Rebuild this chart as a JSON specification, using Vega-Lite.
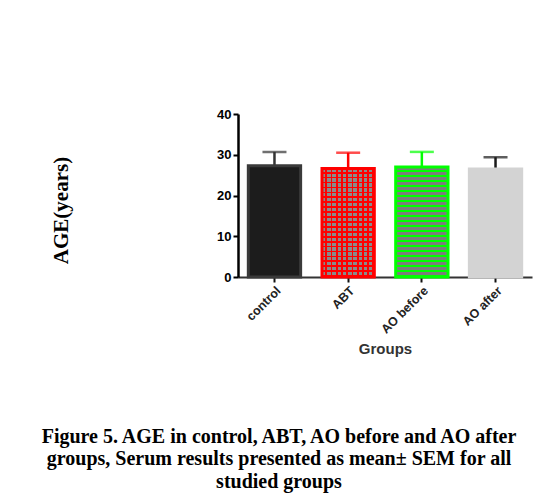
{
  "$schema": "https://vega.github.io/schema/vega-lite/v6.json",
  "width": 294,
  "height": 163,
  "autosize": {"type": "none"},
  "padding": {"left": 238, "top": 114, "right": 12, "bottom": 218},
  "background": "white",
  "config": {"view": {"stroke": null}},
  "title": {
    "text": ["Figure 5. AGE in control, ABT, AO before and AO after", "groups, Serum results presented as mean\u00b1 SEM for all", "studied groups"],
    "orient": "bottom",
    "anchor": "middle",
    "frame": "group",
    "dx": -106,
    "offset": 70,
    "font": "Liberation Serif",
    "fontSize": 20,
    "fontWeight": "bold",
    "color": "black",
    "lineHeight": 22.5
  },
  "data": {"values": [
    {"group": "control", "mean": 27.3, "upper": 30.7},
    {"group": "ABT", "mean": 26.6, "upper": 30.5},
    {"group": "AO before", "mean": 27.0, "upper": 30.7},
    {"group": "AO after", "mean": 26.5, "upper": 29.4}
  ]},
  "encoding": {
    "x": {
      "field": "group", "type": "nominal",
      "sort": ["control", "ABT", "AO before", "AO after"],
      "scale": {"paddingInner": 0.29, "paddingOuter": 0.14},
      "axis": {
        "title": "Groups", "titleFont": "Liberation Sans", "titleFontSize": 15, "titleFontWeight": "bold", "titleColor": "#333", "titlePadding": 6,
        "labelAngle": -45, "labelFont": "Liberation Sans", "labelFontSize": 12.5, "labelFontWeight": "bold", "labelColor": "#222",
        "domainColor": "#333", "domainWidth": 2, "tickColor": "#111", "tickWidth": 2, "tickSize": 5
      }
    }
  },
  "layer": [
    {
      "mark": {"type": "bar"},
      "encoding": {
        "y": {"field": "mean", "type": "quantitative", "scale": {"domain": [0, 40], "nice": false},
          "axis": {"values": [0, 10, 20, 30, 40], "grid": false, "title": "AGE(years)", "titleFont": "Liberation Serif", "titleFontSize": 21, "titleFontWeight": "bold", "titleColor": "black", "titlePadding": 145, "titleY": 96,
            "labelFont": "Liberation Sans", "labelFontSize": 13, "labelFontWeight": "bold", "labelColor": "black",
            "domainColor": "black", "domainWidth": 2.5, "tickColor": "black", "tickWidth": 2, "tickSize": 5}},
        "color": {"field": "group", "type": "nominal", "legend": null,
          "scale": {"domain": ["control", "ABT", "AO before", "AO after"], "range": ["#1c1c1c", "#8a8a8a", "#7c7c7c", "#d3d3d3"]}}
      }
    },
    {
      "transform": [{"filter": "datum.group === 'ABT'"}],
      "mark": {"type": "bar", "fill": {"gradient": "linear", "x1": 0, "y1": 0, "x2": 0, "y2": 1, "stops": [
        {"offset": 0, "color": "rgba(255,0,0,0)"}, {"offset": 0.0295, "color": "rgba(255,0,0,0)"}, {"offset": 0.0295, "color": "#ff0000"}, {"offset": 0.0455, "color": "#ff0000"},
        {"offset": 0.0455, "color": "rgba(255,0,0,0)"}, {"offset": 0.0750, "color": "rgba(255,0,0,0)"}, {"offset": 0.0750, "color": "#ff0000"}, {"offset": 0.0909, "color": "#ff0000"},
        {"offset": 0.0909, "color": "rgba(255,0,0,0)"}, {"offset": 0.1205, "color": "rgba(255,0,0,0)"}, {"offset": 0.1205, "color": "#ff0000"}, {"offset": 0.1364, "color": "#ff0000"},
        {"offset": 0.1364, "color": "rgba(255,0,0,0)"}, {"offset": 0.1659, "color": "rgba(255,0,0,0)"}, {"offset": 0.1659, "color": "#ff0000"}, {"offset": 0.1818, "color": "#ff0000"},
        {"offset": 0.1818, "color": "rgba(255,0,0,0)"}, {"offset": 0.2114, "color": "rgba(255,0,0,0)"}, {"offset": 0.2114, "color": "#ff0000"}, {"offset": 0.2273, "color": "#ff0000"},
        {"offset": 0.2273, "color": "rgba(255,0,0,0)"}, {"offset": 0.2568, "color": "rgba(255,0,0,0)"}, {"offset": 0.2568, "color": "#ff0000"}, {"offset": 0.2727, "color": "#ff0000"},
        {"offset": 0.2727, "color": "rgba(255,0,0,0)"}, {"offset": 0.3023, "color": "rgba(255,0,0,0)"}, {"offset": 0.3023, "color": "#ff0000"}, {"offset": 0.3182, "color": "#ff0000"},
        {"offset": 0.3182, "color": "rgba(255,0,0,0)"}, {"offset": 0.3477, "color": "rgba(255,0,0,0)"}, {"offset": 0.3477, "color": "#ff0000"}, {"offset": 0.3636, "color": "#ff0000"},
        {"offset": 0.3636, "color": "rgba(255,0,0,0)"}, {"offset": 0.3932, "color": "rgba(255,0,0,0)"}, {"offset": 0.3932, "color": "#ff0000"}, {"offset": 0.4091, "color": "#ff0000"},
        {"offset": 0.4091, "color": "rgba(255,0,0,0)"}, {"offset": 0.4386, "color": "rgba(255,0,0,0)"}, {"offset": 0.4386, "color": "#ff0000"}, {"offset": 0.4545, "color": "#ff0000"},
        {"offset": 0.4545, "color": "rgba(255,0,0,0)"}, {"offset": 0.4841, "color": "rgba(255,0,0,0)"}, {"offset": 0.4841, "color": "#ff0000"}, {"offset": 0.5, "color": "#ff0000"},
        {"offset": 0.5, "color": "rgba(255,0,0,0)"}, {"offset": 0.5295, "color": "rgba(255,0,0,0)"}, {"offset": 0.5295, "color": "#ff0000"}, {"offset": 0.5455, "color": "#ff0000"},
        {"offset": 0.5455, "color": "rgba(255,0,0,0)"}, {"offset": 0.5750, "color": "rgba(255,0,0,0)"}, {"offset": 0.5750, "color": "#ff0000"}, {"offset": 0.5909, "color": "#ff0000"},
        {"offset": 0.5909, "color": "rgba(255,0,0,0)"}, {"offset": 0.6205, "color": "rgba(255,0,0,0)"}, {"offset": 0.6205, "color": "#ff0000"}, {"offset": 0.6364, "color": "#ff0000"},
        {"offset": 0.6364, "color": "rgba(255,0,0,0)"}, {"offset": 0.6659, "color": "rgba(255,0,0,0)"}, {"offset": 0.6659, "color": "#ff0000"}, {"offset": 0.6818, "color": "#ff0000"},
        {"offset": 0.6818, "color": "rgba(255,0,0,0)"}, {"offset": 0.7114, "color": "rgba(255,0,0,0)"}, {"offset": 0.7114, "color": "#ff0000"}, {"offset": 0.7273, "color": "#ff0000"},
        {"offset": 0.7273, "color": "rgba(255,0,0,0)"}, {"offset": 0.7568, "color": "rgba(255,0,0,0)"}, {"offset": 0.7568, "color": "#ff0000"}, {"offset": 0.7727, "color": "#ff0000"},
        {"offset": 0.7727, "color": "rgba(255,0,0,0)"}, {"offset": 0.8023, "color": "rgba(255,0,0,0)"}, {"offset": 0.8023, "color": "#ff0000"}, {"offset": 0.8182, "color": "#ff0000"},
        {"offset": 0.8182, "color": "rgba(255,0,0,0)"}, {"offset": 0.8477, "color": "rgba(255,0,0,0)"}, {"offset": 0.8477, "color": "#ff0000"}, {"offset": 0.8636, "color": "#ff0000"},
        {"offset": 0.8636, "color": "rgba(255,0,0,0)"}, {"offset": 0.8932, "color": "rgba(255,0,0,0)"}, {"offset": 0.8932, "color": "#ff0000"}, {"offset": 0.9091, "color": "#ff0000"},
        {"offset": 0.9091, "color": "rgba(255,0,0,0)"}, {"offset": 0.9386, "color": "rgba(255,0,0,0)"}, {"offset": 0.9386, "color": "#ff0000"}, {"offset": 0.9545, "color": "#ff0000"},
        {"offset": 0.9545, "color": "rgba(255,0,0,0)"}, {"offset": 0.9841, "color": "rgba(255,0,0,0)"}, {"offset": 0.9841, "color": "#ff0000"}, {"offset": 1, "color": "#ff0000"}
      ]}},
      "encoding": {"y": {"field": "mean", "type": "quantitative"}}
    },
    {
      "transform": [{"filter": "datum.group === 'ABT'"}],
      "mark": {"type": "bar", "fill": {"gradient": "linear", "x1": 0, "y1": 0, "x2": 1, "y2": 0, "stops": [
        {"offset": 0, "color": "rgba(255,0,0,0)"}, {"offset": 0.065, "color": "rgba(255,0,0,0)"}, {"offset": 0.065, "color": "#ff0000"}, {"offset": 0.1, "color": "#ff0000"},
        {"offset": 0.1, "color": "rgba(255,0,0,0)"}, {"offset": 0.165, "color": "rgba(255,0,0,0)"}, {"offset": 0.165, "color": "#ff0000"}, {"offset": 0.2, "color": "#ff0000"},
        {"offset": 0.2, "color": "rgba(255,0,0,0)"}, {"offset": 0.265, "color": "rgba(255,0,0,0)"}, {"offset": 0.265, "color": "#ff0000"}, {"offset": 0.3, "color": "#ff0000"},
        {"offset": 0.3, "color": "rgba(255,0,0,0)"}, {"offset": 0.365, "color": "rgba(255,0,0,0)"}, {"offset": 0.365, "color": "#ff0000"}, {"offset": 0.4, "color": "#ff0000"},
        {"offset": 0.4, "color": "rgba(255,0,0,0)"}, {"offset": 0.465, "color": "rgba(255,0,0,0)"}, {"offset": 0.465, "color": "#ff0000"}, {"offset": 0.5, "color": "#ff0000"},
        {"offset": 0.5, "color": "rgba(255,0,0,0)"}, {"offset": 0.565, "color": "rgba(255,0,0,0)"}, {"offset": 0.565, "color": "#ff0000"}, {"offset": 0.6, "color": "#ff0000"},
        {"offset": 0.6, "color": "rgba(255,0,0,0)"}, {"offset": 0.665, "color": "rgba(255,0,0,0)"}, {"offset": 0.665, "color": "#ff0000"}, {"offset": 0.7, "color": "#ff0000"},
        {"offset": 0.7, "color": "rgba(255,0,0,0)"}, {"offset": 0.765, "color": "rgba(255,0,0,0)"}, {"offset": 0.765, "color": "#ff0000"}, {"offset": 0.8, "color": "#ff0000"},
        {"offset": 0.8, "color": "rgba(255,0,0,0)"}, {"offset": 0.865, "color": "rgba(255,0,0,0)"}, {"offset": 0.865, "color": "#ff0000"}, {"offset": 0.9, "color": "#ff0000"},
        {"offset": 0.9, "color": "rgba(255,0,0,0)"}, {"offset": 0.965, "color": "rgba(255,0,0,0)"}, {"offset": 0.965, "color": "#ff0000"}, {"offset": 1, "color": "#ff0000"}
      ]}},
      "encoding": {"y": {"field": "mean", "type": "quantitative"}}
    },
    {
      "transform": [{"filter": "datum.group === 'AO before'"}],
      "mark": {"type": "bar", "fill": {"gradient": "linear", "x1": 0, "y1": 0, "x2": 0, "y2": 1, "stops": [
        {"offset": 0, "color": "rgba(0,255,0,0)"}, {"offset": 0.0295, "color": "rgba(0,255,0,0)"}, {"offset": 0.0295, "color": "#00ff00"}, {"offset": 0.0455, "color": "#00ff00"},
        {"offset": 0.0455, "color": "rgba(0,255,0,0)"}, {"offset": 0.0750, "color": "rgba(0,255,0,0)"}, {"offset": 0.0750, "color": "#00ff00"}, {"offset": 0.0909, "color": "#00ff00"},
        {"offset": 0.0909, "color": "rgba(0,255,0,0)"}, {"offset": 0.1205, "color": "rgba(0,255,0,0)"}, {"offset": 0.1205, "color": "#00ff00"}, {"offset": 0.1364, "color": "#00ff00"},
        {"offset": 0.1364, "color": "rgba(0,255,0,0)"}, {"offset": 0.1659, "color": "rgba(0,255,0,0)"}, {"offset": 0.1659, "color": "#00ff00"}, {"offset": 0.1818, "color": "#00ff00"},
        {"offset": 0.1818, "color": "rgba(0,255,0,0)"}, {"offset": 0.2114, "color": "rgba(0,255,0,0)"}, {"offset": 0.2114, "color": "#00ff00"}, {"offset": 0.2273, "color": "#00ff00"},
        {"offset": 0.2273, "color": "rgba(0,255,0,0)"}, {"offset": 0.2568, "color": "rgba(0,255,0,0)"}, {"offset": 0.2568, "color": "#00ff00"}, {"offset": 0.2727, "color": "#00ff00"},
        {"offset": 0.2727, "color": "rgba(0,255,0,0)"}, {"offset": 0.3023, "color": "rgba(0,255,0,0)"}, {"offset": 0.3023, "color": "#00ff00"}, {"offset": 0.3182, "color": "#00ff00"},
        {"offset": 0.3182, "color": "rgba(0,255,0,0)"}, {"offset": 0.3477, "color": "rgba(0,255,0,0)"}, {"offset": 0.3477, "color": "#00ff00"}, {"offset": 0.3636, "color": "#00ff00"},
        {"offset": 0.3636, "color": "rgba(0,255,0,0)"}, {"offset": 0.3932, "color": "rgba(0,255,0,0)"}, {"offset": 0.3932, "color": "#00ff00"}, {"offset": 0.4091, "color": "#00ff00"},
        {"offset": 0.4091, "color": "rgba(0,255,0,0)"}, {"offset": 0.4386, "color": "rgba(0,255,0,0)"}, {"offset": 0.4386, "color": "#00ff00"}, {"offset": 0.4545, "color": "#00ff00"},
        {"offset": 0.4545, "color": "rgba(0,255,0,0)"}, {"offset": 0.4841, "color": "rgba(0,255,0,0)"}, {"offset": 0.4841, "color": "#00ff00"}, {"offset": 0.5, "color": "#00ff00"},
        {"offset": 0.5, "color": "rgba(0,255,0,0)"}, {"offset": 0.5295, "color": "rgba(0,255,0,0)"}, {"offset": 0.5295, "color": "#00ff00"}, {"offset": 0.5455, "color": "#00ff00"},
        {"offset": 0.5455, "color": "rgba(0,255,0,0)"}, {"offset": 0.5750, "color": "rgba(0,255,0,0)"}, {"offset": 0.5750, "color": "#00ff00"}, {"offset": 0.5909, "color": "#00ff00"},
        {"offset": 0.5909, "color": "rgba(0,255,0,0)"}, {"offset": 0.6205, "color": "rgba(0,255,0,0)"}, {"offset": 0.6205, "color": "#00ff00"}, {"offset": 0.6364, "color": "#00ff00"},
        {"offset": 0.6364, "color": "rgba(0,255,0,0)"}, {"offset": 0.6659, "color": "rgba(0,255,0,0)"}, {"offset": 0.6659, "color": "#00ff00"}, {"offset": 0.6818, "color": "#00ff00"},
        {"offset": 0.6818, "color": "rgba(0,255,0,0)"}, {"offset": 0.7114, "color": "rgba(0,255,0,0)"}, {"offset": 0.7114, "color": "#00ff00"}, {"offset": 0.7273, "color": "#00ff00"},
        {"offset": 0.7273, "color": "rgba(0,255,0,0)"}, {"offset": 0.7568, "color": "rgba(0,255,0,0)"}, {"offset": 0.7568, "color": "#00ff00"}, {"offset": 0.7727, "color": "#00ff00"},
        {"offset": 0.7727, "color": "rgba(0,255,0,0)"}, {"offset": 0.8023, "color": "rgba(0,255,0,0)"}, {"offset": 0.8023, "color": "#00ff00"}, {"offset": 0.8182, "color": "#00ff00"},
        {"offset": 0.8182, "color": "rgba(0,255,0,0)"}, {"offset": 0.8477, "color": "rgba(0,255,0,0)"}, {"offset": 0.8477, "color": "#00ff00"}, {"offset": 0.8636, "color": "#00ff00"},
        {"offset": 0.8636, "color": "rgba(0,255,0,0)"}, {"offset": 0.8932, "color": "rgba(0,255,0,0)"}, {"offset": 0.8932, "color": "#00ff00"}, {"offset": 0.9091, "color": "#00ff00"},
        {"offset": 0.9091, "color": "rgba(0,255,0,0)"}, {"offset": 0.9386, "color": "rgba(0,255,0,0)"}, {"offset": 0.9386, "color": "#00ff00"}, {"offset": 0.9545, "color": "#00ff00"},
        {"offset": 0.9545, "color": "rgba(0,255,0,0)"}, {"offset": 0.9841, "color": "rgba(0,255,0,0)"}, {"offset": 0.9841, "color": "#00ff00"}, {"offset": 1, "color": "#00ff00"}
      ]}},
      "encoding": {"y": {"field": "mean", "type": "quantitative"}}
    },
    {
      "mark": {"type": "rule", "strokeWidth": 2.5},
      "encoding": {
        "y": {"field": "mean", "type": "quantitative"},
        "y2": {"field": "upper"},
        "stroke": {"field": "group", "type": "nominal", "legend": null,
          "scale": {"domain": ["control", "ABT", "AO before", "AO after"], "range": ["#333333", "#ff0000", "#00ff00", "#1a1a1a"]}}
      }
    },
    {
      "mark": {"type": "tick", "size": 24, "thickness": 2.5},
      "encoding": {
        "y": {"field": "upper", "type": "quantitative"},
        "color": {"field": "group", "type": "nominal", "legend": null,
          "scale": {"domain": ["control", "ABT", "AO before", "AO after"], "range": ["#333333", "#ff0000", "#00ff00", "#1a1a1a"]}}
      }
    },
    {
      "mark": {"type": "bar", "fillOpacity": 0, "strokeWidth": 3},
      "encoding": {
        "y": {"field": "mean", "type": "quantitative"},
        "stroke": {"field": "group", "type": "nominal", "legend": null,
          "scale": {"domain": ["control", "ABT", "AO before", "AO after"], "range": ["#3a3a3a", "#ff0000", "#00ff00", "#d3d3d3"]}}
      }
    }
  ],
  "resolve": {"scale": {"color": "independent", "stroke": "independent"}}
}
